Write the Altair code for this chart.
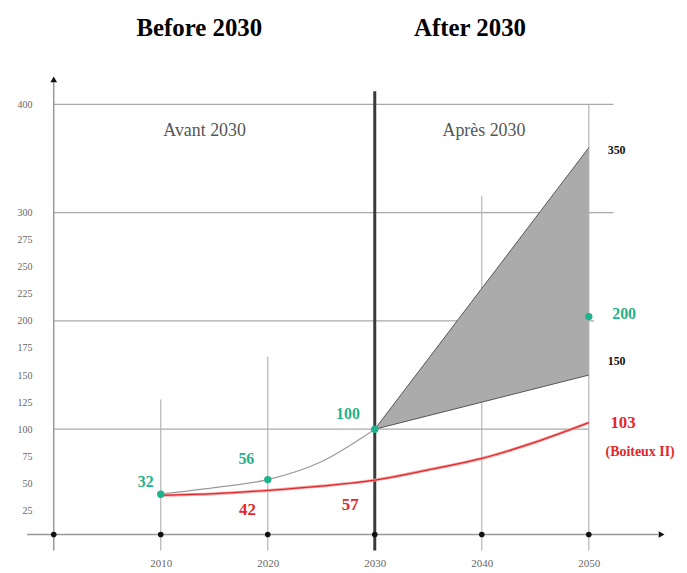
import altair as alt
import pandas as pd

# ---------------- data ----------------
x_ticks = [2010, 2020, 2030, 2040, 2050]
y_ticks = [25, 50, 75, 100, 125, 150, 175, 200, 225, 250, 275, 300, 400]

gray_years = [2010, 2015, 2020, 2025, 2030]
gray_values = [40, 46, 53.5, 70, 100]

red_years = [2010, 2015, 2020, 2025, 2030, 2035, 2040, 2045, 2050]
red_values = [39, 40.5, 43.5, 47.5, 53, 62.5, 73, 88, 106]

green_years = [2010, 2020, 2030, 2050]
green_values = [40, 53.5, 100, 204]

range_years = [2030, 2050]
range_high = [100, 360]
range_low = [100, 150]

# annotation texts (data coordinates of each label)
green_text = ["32", "56", "100", "200"]
green_tx = [2008.6, 2018.0, 2027.5, 2053.3]
green_ty = [51, 72.5, 114, 206]

red_text = ["42", "57", "103"]
red_tx = [2018.1, 2027.7, 2053.2]
red_ty = [25, 30, 106]

black_text = ["350", "150"]
black_tx = [2052.6, 2052.6]
black_ty = [358, 163]

# grid pieces
hgrid_y = [100, 200, 300, 400]
hgrid_end = [2050, 2050.5, 2052.3, 2052.3]
vgrid_x = [2010, 2020, 2040, 2050]
vgrid_top = [127.5, 167, 315.5, 400]

SERIF = "Liberation Serif"
GREEN = "#1fb28e"
RED = "#e3282b"

xs = alt.Scale(domain=[2000, 2057.5], nice=False, zero=False)
ys = alt.Scale(domain=[0, 425], nice=False, zero=False)

xaxis = alt.Axis(values=x_ticks, format="d", title=None, grid=False, domain=False,
                 ticks=False, labelFont=SERIF, labelFontSize=11, labelColor="#666",
                 labelPadding=20, labelOverlap=False)
yaxis = alt.Axis(values=y_ticks, title=None, grid=False, domain=False, ticks=False,
                 labelFont=SERIF, labelFontSize=10, labelColor="#666",
                 labelPadding=22, labelOverlap=False)

X = alt.X("x:Q", scale=xs, axis=xaxis)
Y = alt.Y("y:Q", scale=ys, axis=yaxis)

# tables
hgrid = pd.DataFrame({"y": hgrid_y, "x": [2000] * 4, "x2": hgrid_end})
vgrid = pd.DataFrame({"x": vgrid_x, "y": [-12] * 4, "y2": vgrid_top})
sep = pd.DataFrame({"x": [2030], "y": [-12], "y2": [412]})
yline = pd.DataFrame({"x": [2000], "y": [-12], "y2": [423]})
xline = pd.DataFrame({"y": [2.75], "x": [1997.5], "x2": [2056.5]})
dots = pd.DataFrame({"x": [2000] + x_ticks, "y": [2.75] * 6})
gray_df = pd.DataFrame({"x": gray_years, "y": gray_values})
red_df = pd.DataFrame({"x": red_years, "y": red_values})
green_df = pd.DataFrame({"x": green_years, "y": green_values})
band = pd.DataFrame({"x": range_years, "y": range_high, "y2": range_low})
band_hi = pd.DataFrame({"x": range_years, "y": range_high})
band_lo = pd.DataFrame({"x": range_years, "y": range_low})
gtxt = pd.DataFrame({"x": green_tx, "y": green_ty, "t": green_text})
rtxt = pd.DataFrame({"x": red_tx, "y": red_ty, "t": red_text})
btxt = pd.DataFrame({"x": black_tx, "y": black_ty, "t": black_text})
boit = pd.DataFrame({"x": [2054.8], "y": [78.5], "t": ["(Boiteux II)"]})
inner = pd.DataFrame({"x": [2014.1, 2040.2], "y": [375, 375], "t": ["Avant 2030", "Après 2030"]})
titles = pd.DataFrame({"x": [2013.6, 2038.9], "y": [470, 470], "t": ["Before 2030", "After 2030"]})

layers = [
    alt.Chart(hgrid).mark_rule(color="#a9a9a9", strokeWidth=1.2).encode(x=X, x2="x2:Q", y=Y),
    alt.Chart(vgrid).mark_rule(color="#b5b5b5", strokeWidth=1.2).encode(x=X, y=Y, y2="y2:Q"),
    alt.Chart(band).mark_area(color="#ababab", opacity=1).encode(x=X, y=Y, y2="y2:Q"),
    alt.Chart(band_hi).mark_line(color="#555", strokeWidth=1).encode(x=X, y=Y),
    alt.Chart(band_lo).mark_line(color="#555", strokeWidth=1).encode(x=X, y=Y),
    alt.Chart(sep).mark_rule(color="#3a3a3a", strokeWidth=3).encode(x=X, y=Y, y2="y2:Q"),
    alt.Chart(yline).mark_rule(color="#999", strokeWidth=1.5).encode(x=X, y=Y, y2="y2:Q"),
    alt.Chart(xline).mark_rule(color="#999", strokeWidth=1.5).encode(x=X, x2="x2:Q", y=Y),
    alt.Chart(dots).mark_point(filled=True, color="#111", size=32, opacity=1).encode(x=X, y=Y),
    alt.Chart(pd.DataFrame({"x": [2000], "y": [423]})).mark_point(
        shape="triangle-up", filled=True, color="#111", size=45, opacity=1).encode(x=X, y=Y),
    alt.Chart(pd.DataFrame({"x": [2056.8], "y": [2.75]})).mark_point(
        shape="triangle-right", filled=True, color="#111", size=45, opacity=1).encode(x=X, y=Y),
    alt.Chart(gray_df).mark_line(color="#9a9a9a", strokeWidth=1.2, interpolate="monotone").encode(x=X, y=Y),
    alt.Chart(red_df).mark_line(color="#f4a5a5", strokeWidth=3, interpolate="monotone").encode(x=X, y=Y),
    alt.Chart(red_df).mark_line(color=RED, strokeWidth=1.3, interpolate="monotone").encode(x=X, y=Y),
    alt.Chart(green_df).mark_point(filled=True, color=GREEN, size=55, opacity=1).encode(x=X, y=Y),
    alt.Chart(gtxt).mark_text(font=SERIF, fontSize=16, fontWeight="bold", color=GREEN).encode(x=X, y=Y, text="t:N"),
    alt.Chart(rtxt).mark_text(font=SERIF, fontSize=17, fontWeight="bold", color=RED).encode(x=X, y=Y, text="t:N"),
    alt.Chart(boit).mark_text(font=SERIF, fontSize=14, fontWeight="bold", color=RED).encode(x=X, y=Y, text="t:N"),
    alt.Chart(btxt).mark_text(font=SERIF, fontSize=12, fontWeight="bold", color="#111").encode(x=X, y=Y, text="t:N"),
    alt.Chart(inner).mark_text(font=SERIF, fontSize=18, color="#555").encode(x=X, y=Y, text="t:N"),
    alt.Chart(titles).mark_text(font=SERIF, fontSize=25, fontWeight="bold", color="#000").encode(x=X, y=Y, text="t:N"),
]

chart = alt.layer(*layers).properties(
    width=619, height=463,
    autosize=alt.AutoSizeParams(type="none"),
    padding={"left": 46, "top": 68, "right": 10, "bottom": 30},
    background="white",
).configure_view(stroke=None)

chart.save("out.html", embed_options={"renderer": "svg", "actions": False})
